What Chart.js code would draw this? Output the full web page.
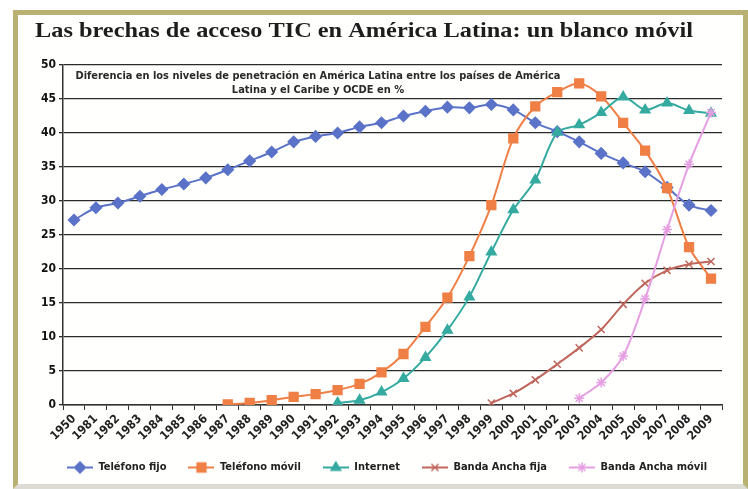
<!DOCTYPE html>
<html>
<head>
<meta charset="utf-8">
<script src="https://cdn.jsdelivr.net/npm/chart.js@4.4.0/dist/chart.umd.min.js"></script>
<style>
body{margin:0;background:#fff;}
#wrap{position:relative;width:748px;height:489px;overflow:hidden;}
#frame{position:absolute;left:13px;top:10px;width:725px;height:469px;border:5px solid #b9b172;border-bottom-color:#dcdcd4;background:#fffffd;}
#line-chart{position:absolute;left:0;top:0;}
</style>
</head>
<body>
<div id="wrap"><div id="frame"></div><canvas id="line-chart" width="748" height="489"></canvas></div>
<script>
var titleText = "Las brechas de acceso TIC en América Latina: un blanco móvil";
var subtitleLines = ["Diferencia en los niveles de penetración en América Latina entre los países de América",
	"Latina y el Caribe y OCDE en %"];

var years = ["1950","1981","1982","1983","1984","1985","1986","1987","1988","1989",
	"1990","1991","1992","1993","1994","1995","1996","1997","1998","1999",
	"2000","2001","2002","2003","2004","2005","2006","2007","2008","2009"];

var seriesNames = ["Teléfono fijo","Teléfono móvil","Internet","Banda Ancha fija","Banda Ancha móvil"];

var telefonoFijo = [27.2,29.0,29.7,30.7,31.7,32.5,33.4,34.6,35.9,37.2,
	38.7,39.5,40.0,40.9,41.5,42.5,43.2,43.8,43.7,44.2,
	43.4,41.5,40.2,38.7,37.0,35.6,34.3,32.0,29.4,28.6];

var telefonoMovil = [null,null,null,null,null,null,null,0.1,0.3,0.7,
	1.2,1.6,2.2,3.1,4.8,7.5,11.5,15.8,21.9,29.4,
	39.2,43.9,46.0,47.3,45.4,41.5,37.4,31.9,23.2,18.6];

var internet = [null,null,null,null,null,null,null,null,null,null,
	null,null,0.3,0.7,1.9,3.9,7.0,11.0,15.9,22.5,
	28.7,33.1,40.1,41.2,43.0,45.3,43.4,44.4,43.3,42.9];

var bandaFija = [null,null,null,null,null,null,null,null,null,null,
	null,null,null,null,null,null,null,null,null,0.3,
	1.7,3.7,6.0,8.4,11.1,14.8,17.9,19.8,20.7,21.1];

var bandaMovil = [null,null,null,null,null,null,null,null,null,null,
	null,null,null,null,null,null,null,null,null,null,
	null,null,null,1.0,3.3,7.2,15.6,25.8,35.4,43.0];

var colors = ["#5a72c8","#ef7f44","#35aaa0","#c0665c","#e59fe2"];
var markers = ["rectRot","rect","triangle","crossRot","star"];
var radii = [5.5,6.2,5.5,5,5];
var allData = [telefonoFijo, telefonoMovil, internet, bandaFija, bandaMovil];

var sansFont = '"DejaVu Sans Condensed", "DejaVu Sans", sans-serif';

// small canvases with line + marker for the legend
function makeIcon(i){
	var c = document.createElement('canvas');
	c.width = 26; c.height = 14;
	var cx = c.getContext('2d');
	cx.strokeStyle = colors[i];
	cx.fillStyle = colors[i];
	cx.lineWidth = 2;
	cx.beginPath();
	cx.moveTo(0, 7); cx.lineTo(26, 7);
	cx.stroke();
	cx.lineWidth = 1.5;
	Chart.helpers.drawPoint(cx, {pointStyle: markers[i], radius: radii[i], borderWidth: 1.5, rotation: 0}, 13, 7);
	return c;
}
var icons = seriesNames.map(function(n, i){ return makeIcon(i); });

var datasets = seriesNames.map(function(name, i){
	return {
		label: name,
		data: allData[i],
		borderColor: colors[i],
		backgroundColor: colors[i],
		pointBackgroundColor: colors[i],
		pointBorderColor: colors[i],
		pointStyle: markers[i],
		pointRadius: radii[i],
		pointBorderWidth: 1.5,
		borderWidth: 2,
		tension: 0.3,
		fill: false,
		order: 5 - i
	};
});

var textPlugin = {
	id: 'textPlugin',
	beforeDraw: function(chart){
		// legend sits a bit right of the canvas centre in the original
		if (chart.legend && !chart.legend._shifted) {
			chart.legend.left += 13;
			chart.legend.right += 13;
			chart.legend._shifted = true;
		}
	},
	afterDraw: function(chart){
		var ctx = chart.ctx;
		ctx.save();
		ctx.fillStyle = '#1d1d1d';
		ctx.textBaseline = 'alphabetic';
		ctx.textAlign = 'left';
		ctx.font = 'bold 22px "Liberation Serif", "DejaVu Serif", serif';
		var w = ctx.measureText(titleText).width;
		ctx.translate(35, 37);
		ctx.scale(658 / w, 1);
		ctx.fillText(titleText, 0, 0);
		ctx.setTransform(1, 0, 0, 1, 0, 0);
		ctx.fillStyle = '#2a2a2a';
		ctx.textAlign = 'center';
		ctx.font = 'bold 11px ' + sansFont;
		ctx.fillText(subtitleLines[0], 318, 79, 485);
		ctx.fillText(subtitleLines[1], 318, 93, 178);
		ctx.restore();
	}
};

new Chart(document.getElementById("line-chart"), {
	type: 'line',
	data: {
		labels: years,
		datasets: datasets
	},
	plugins: [textPlugin],
	options: {
		responsive: false,
		animation: false,
		layout: { padding: { top: 65, left: 26, right: 26, bottom: 6 } },
		plugins: {
			title: { display: false },
			tooltip: { enabled: false },
			legend: {
				position: 'bottom',
				labels: {
					usePointStyle: true,
					pointStyleWidth: 26,
					padding: 22,
					color: '#222',
					font: { family: sansFont, size: 11, weight: 'bold' },
					sort: function(a, b){ return a.datasetIndex - b.datasetIndex; },
					generateLabels: function(chart){
						var items = Chart.defaults.plugins.legend.labels.generateLabels(chart);
						items.forEach(function(it){ it.pointStyle = icons[it.datasetIndex]; });
						return items;
					}
				}
			}
		},
		scales: {
			x: {
				offset: true,
				afterFit: function(s){ s.height = 35; },
				grid: { display: true, offset: true, drawOnChartArea: false, drawTicks: true, tickLength: 5, color: '#333' },
				border: { display: true, color: '#333', width: 1.5 },
				ticks: {
					autoSkip: false,
					minRotation: 45,
					maxRotation: 45,
					padding: 2,
					color: '#222',
					font: { family: sansFont, size: 12, weight: 'bold' }
				}
			},
			y: {
				min: 0,
				max: 50,
				afterFit: function(s){ s.width = 37; },
				grid: { color: '#2b2b2b', lineWidth: 1.3, drawTicks: true, tickLength: 4 },
				border: { display: true, color: '#333', width: 1.5 },
				ticks: {
					stepSize: 5,
					padding: 3,
					color: '#111',
					font: { family: sansFont, size: 12, weight: 'bold' }
				}
			}
		}
	}
});
</script>
</body>
</html>
